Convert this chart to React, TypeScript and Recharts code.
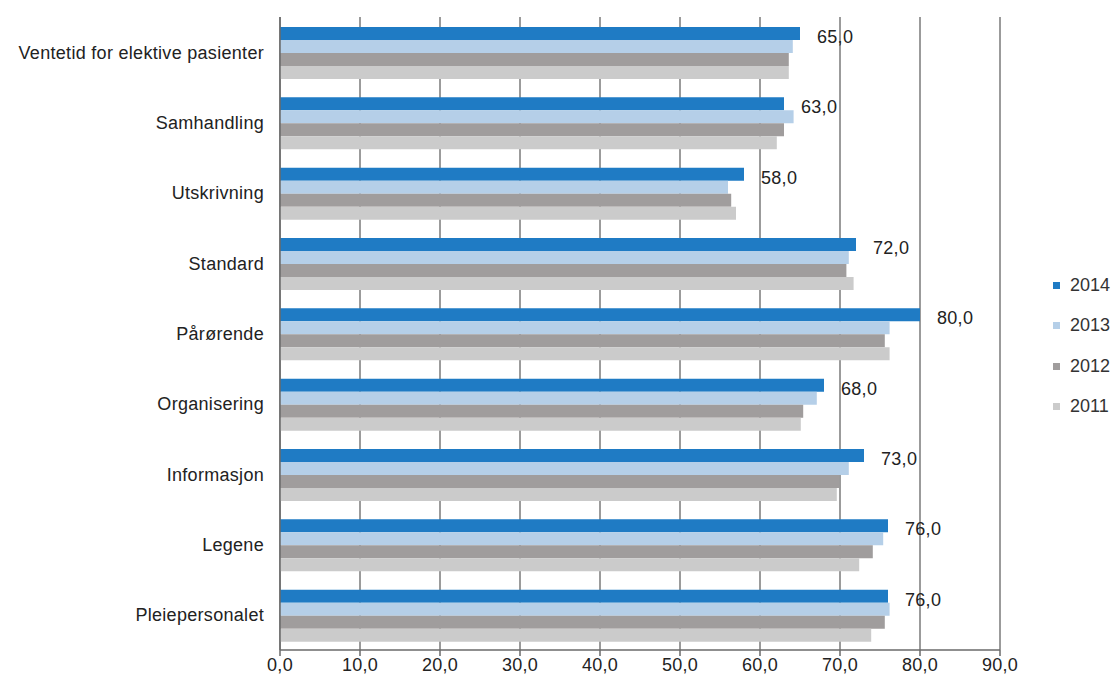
import React from "react";
import {
  BarChart,
  Bar,
  XAxis,
  YAxis,
  CartesianGrid,
  LabelList,
} from "recharts";

const categories = [
  "Ventetid for elektive pasienter",
  "Samhandling",
  "Utskrivning",
  "Standard",
  "Pårørende",
  "Organisering",
  "Informasjon",
  "Legene",
  "Pleiepersonalet",
];

const values2014 = [65, 63, 58, 72, 80, 68, 73, 76, 76];
const values2013 = [64.1, 64.2, 56.0, 71.1, 76.2, 67.1, 71.1, 75.4, 76.2];
const values2012 = [63.6, 63.0, 56.4, 70.8, 75.6, 65.4, 69.9, 74.1, 75.6];
const values2011 = [63.6, 62.1, 57.0, 71.7, 76.2, 65.1, 69.6, 72.4, 73.9];

const xTicks = [0, 10, 20, 30, 40, 50, 60, 70, 80, 90];

const SERIES = [
  { key: "y2014", name: "2014", color: "#1f7bc4" },
  { key: "y2013", name: "2013", color: "#b5cfe8" },
  { key: "y2012", name: "2012", color: "#a09d9d" },
  { key: "y2011", name: "2011", color: "#cbcbcb" },
];

const data = categories.map((name, i) => ({
  name,
  y2014: values2014[i],
  y2013: values2013[i],
  y2012: values2012[i],
  y2011: values2011[i],
}));

const fmt = (v: number) => v.toFixed(1).replace(".", ",");

const FONT = "'Liberation Sans', Arial, sans-serif";
const TEXT = { fill: "#222", fontSize: 18, fontFamily: FONT, letterSpacing: 0.3 };

// legend drawn as plain html so it doesn't eat chart space
function LegendBox() {
  return (
    <div
      style={{
        position: "absolute",
        left: 1053,
        top: 265,
        fontFamily: FONT,
        fontSize: 18,
        color: "#333",
      }}
    >
      {SERIES.map((s) => (
        <div
          key={s.key}
          style={{ display: "flex", alignItems: "center", height: 40.5 }}
        >
          <span
            style={{
              display: "inline-block",
              width: 7,
              height: 7,
              background: s.color,
              marginRight: 10,
            }}
          />
          <span>{s.name}</span>
        </div>
      ))}
    </div>
  );
}

export default function App() {
  return (
    <div
      style={{
        position: "absolute",
        left: 0,
        top: 0,
        width: 1115,
        height: 684,
        background: "#fff",
      }}
    >
      <BarChart
        width={1115}
        height={684}
        data={data}
        layout="vertical"
        margin={{ top: 17, right: 115, bottom: 4, left: 0 }}
        barCategoryGap={10}
        barGap={0}
      >
        <CartesianGrid
          horizontal={false}
          stroke="#7a7a7a"
          strokeWidth={1.5}
        />
        <XAxis
          type="number"
          domain={[0, 90]}
          ticks={xTicks}
          tickFormatter={fmt}
          height={30}
          stroke="#6a6a6a"
          strokeWidth={1.5}
          tickSize={6}
          tick={TEXT}
        />
        <YAxis
          type="category"
          dataKey="name"
          width={280}
          stroke="#6a6a6a"
          strokeWidth={1.5}
          tickSize={0}
          tickMargin={16}
          tick={TEXT}
        />
        {SERIES.map((s, i) => (
          <Bar
            key={s.key}
            dataKey={s.key}
            name={s.name}
            fill={s.color}
            isAnimationActive={false}
          >
            {i === 0 && (
              <LabelList
                dataKey={s.key}
                position="right"
                offset={17}
                dy={3}
                formatter={(v: number) => fmt(v)}
                style={TEXT}
              />
            )}
          </Bar>
        ))}
      </BarChart>
      <LegendBox />
    </div>
  );
}
